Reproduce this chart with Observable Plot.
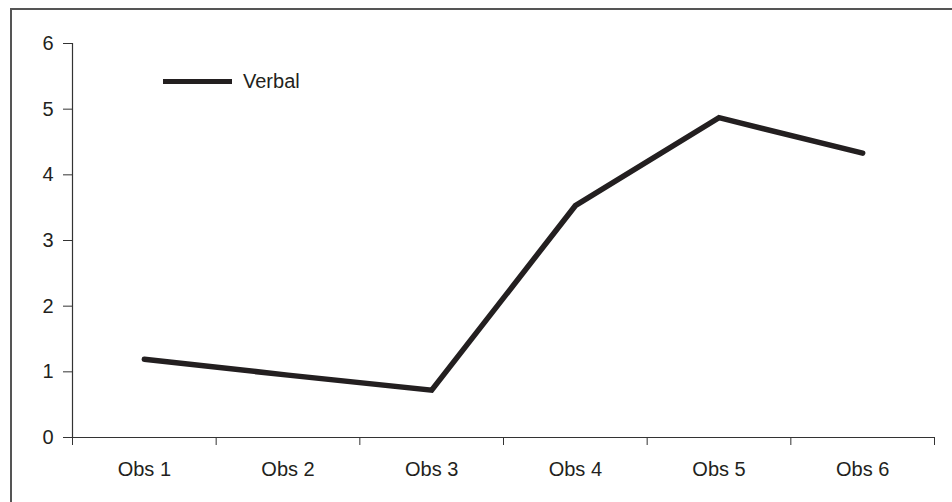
<!DOCTYPE html>
<html>
<head>
<meta charset="utf-8">
<script src="https://cdn.jsdelivr.net/npm/d3@7"></script>
<script src="https://cdn.jsdelivr.net/npm/@observablehq/plot@0.6"></script>
<style>
  html, body { margin: 0; padding: 0; background: #fff; overflow: hidden; }
  #wrap { position: relative; width: 952px; height: 502px; }
  #frame { position: absolute; left: 10px; top: 8px; width: 1000px; height: 600px;
           border-left: 2px solid #555; border-top: 2px solid #555; box-sizing: border-box; }
  #chart { position: absolute; left: 0; top: 0; }
  #legend { position: absolute; left: 163px; top: 70px; display: flex; align-items: center;
            font-family: "Liberation Sans", Arial, Helvetica, sans-serif; font-size: 20px; color: #231f20; }
  #legend .sw { width: 69px; height: 5.5px; background: #231f20; margin-right: 11px; }
</style>
</head>
<body>
<div id="wrap">
  <div id="frame"></div>
  <div id="chart"></div>
  <div id="legend"></div>
</div>
<script>
const categories = ["Obs 1", "Obs 2", "Obs 3", "Obs 4", "Obs 5", "Obs 6"];
const verbal = [1.19, 0.95, 0.72, 3.53, 4.87, 4.33];
const seriesName = "Verbal";
const yTicks = [0, 1, 2, 3, 4, 5, 6];

const data = categories.map((c, i) => ({cat: c, i, value: verbal[i]}));
const boundaries = d3.range(categories.length + 1);
const centers = categories.map((c, i) => i + 0.5);

const chart = Plot.plot({
  width: 952,
  height: 502,
  marginLeft: 72,
  marginRight: 18,
  marginTop: 43,
  marginBottom: 65,
  x: {domain: [0, categories.length]},
  y: {domain: [0, 6]},
  style: {fontFamily: "'Liberation Sans', Arial, Helvetica, sans-serif", fontSize: "20px", color: "#231f20", background: "transparent"},
  marks: [
    Plot.axisY(yTicks, {tickSize: 9, tickPadding: 10, label: null, stroke: "#333", tickFormat: d3.format("d")}),
    Plot.axisX(boundaries, {tickSize: 8, tickFormat: () => "", label: null, stroke: "#333"}),
    Plot.axisX(centers, {tickSize: 0, tickPadding: 24, tickFormat: d => categories[Math.round(d - 0.5)], label: null}),
    Plot.ruleX([0], {stroke: "#333", strokeWidth: 1.2}),
    Plot.ruleY([0], {stroke: "#333", strokeWidth: 1.2}),
    Plot.line(data, {x: d => d.i + 0.5, y: "value", stroke: "#231f20", strokeWidth: 5.5, strokeLinejoin: "miter", strokeMiterlimit: 10})
  ]
});
document.getElementById("chart").appendChild(chart);

const legend = document.getElementById("legend");
const sw = document.createElement("div");
sw.className = "sw";
const lab = document.createElement("span");
lab.textContent = seriesName;
legend.appendChild(sw);
legend.appendChild(lab);
</script>
</body>
</html>
